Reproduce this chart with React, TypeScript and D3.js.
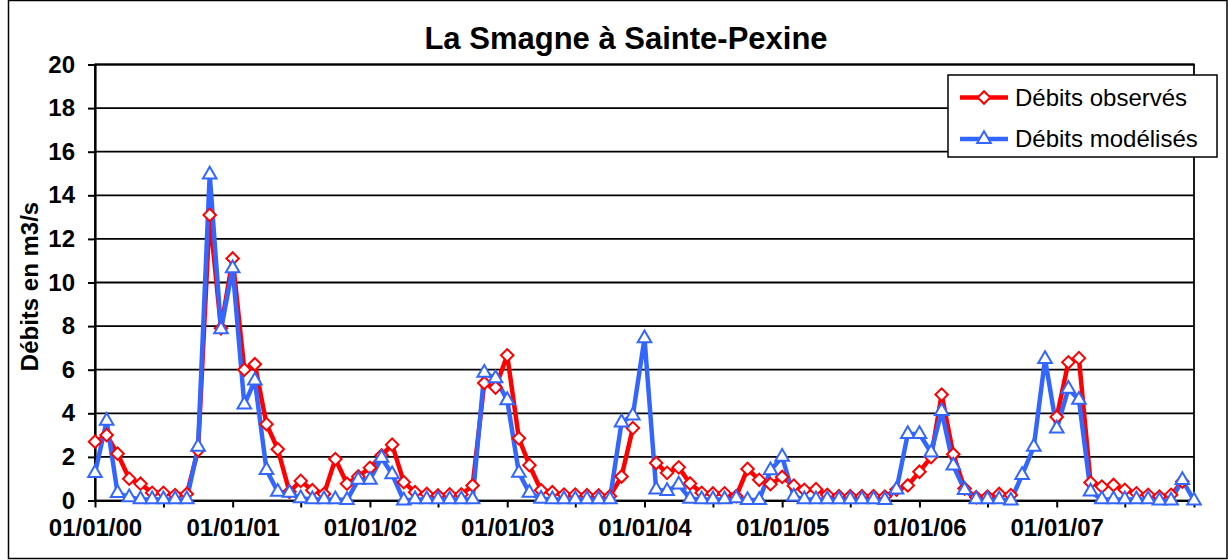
import React from "react";
import * as d3 from "d3";

// monthly flows, Jan 2000 -> Jan 2008 (97 months), m3/s
const observed: (number | null)[] = [
  2.7, 3.0, 2.15, 1.0, 0.77, 0.35, 0.35, 0.25, 0.3, 2.3, 13.1, 7.9,
  11.1, 6.0, 6.25, 3.5, 2.35, 0.4, 0.9, 0.47, 0.3, 1.9, 0.77, 1.1,
  1.5, 2.07, 2.56, 0.84, 0.38, 0.3, 0.23, 0.28, 0.28, 0.69, 5.39, 5.18,
  6.66, 2.85, 1.62, 0.47, 0.38, 0.27, 0.27, 0.24, 0.23, 0.2, 1.1, 3.32,
  null, 1.72, 1.27, 1.52, 0.78, 0.35, 0.32, 0.33, 0.2, 1.45, 0.95, 0.75,
  1.08, 0.68, 0.49, 0.52, 0.26, 0.2, 0.2, 0.2, 0.2, 0.18, 0.5, 0.69,
  1.32, 1.99, 4.86, 2.12, 0.55, 0.15, 0.18, 0.3, 0.25, null, null, null,
  3.83, 6.34, 6.53, 0.82, 0.64, 0.71, 0.49, 0.33, 0.26, 0.18, 0.26, 0.87,
  null,
];

const modeled: (number | null)[] = [
  1.26, 3.65, 0.34, 0.15, 0.05, 0.05, 0.05, 0.05, 0.05, 2.46, 14.95, 7.85,
  10.65, 4.4, 5.5, 1.4, 0.4, 0.35, 0.1, 0.05, 0.05, 0.05, 0.02, 0.95,
  0.95, 1.96, 1.2, 0.0, 0.05, 0.05, 0.05, 0.05, 0.05, 0.05, 5.86, 5.6,
  4.6, 1.27, 0.35, 0.08, 0.05, 0.05, 0.05, 0.05, 0.05, 0.05, 3.58, 3.9,
  7.44, 0.5, 0.43, 0.73, 0.08, 0.05, 0.05, 0.05, 0.1, 0.02, 0.02, 1.38,
  2.0, 0.18, 0.05, 0.05, 0.05, 0.05, 0.05, 0.05, 0.05, 0.02, 0.5, 3.05,
  3.05, 2.2, 4.1, 1.6, 0.48, 0.05, 0.05, 0.05, 0.0, 1.17, 2.46, 6.49,
  3.3, 5.12, 4.62, 0.41, 0.05, 0.05, 0.05, 0.05, 0.05, 0.0, 0.0, 0.94,
  0.0,
];

const startDate = new Date(2000, 0, 1);
const endDate = new Date(2008, 0, 1);
const months = d3.timeMonth.range(startDate, new Date(2008, 0, 2));

const yTicks = [0, 2, 4, 6, 8, 10, 12, 14, 16, 18, 20];
const title = "La Smagne à Sainte-Pexine";
const yTitle = "Débits en m3/s";
const seriesNames = ["Débits observés", "Débits modélisés"];

const RED = "#ff0000";
const BLUE = "#3366ff";
const FONT = "'Liberation Sans', Arial, sans-serif";

type Pt = { date: Date; v: number | null };

const App = () => {
  const ref = React.useRef<SVGSVGElement>(null);

  React.useEffect(() => {
    const width = 1228;
    const height = 560;
    const margin = { left: 95, right: 34, top: 64.5, bottom: 59.5 };

    const svg = d3.select(ref.current);
    svg.selectAll("*").remove();

    // chart area border
    svg.append("rect")
      .attr("x", 8.5).attr("y", 0.5)
      .attr("width", width - 9.5).attr("height", 558)
      .attr("fill", "white").attr("stroke", "#000").attr("stroke-width", 1.5);

    const x = d3.scaleTime()
      .domain([startDate, endDate])
      .range([margin.left, width - margin.right]);
    const y = d3.scaleLinear()
      .domain([0, 20])
      .range([height - margin.bottom, margin.top]);

    // gridlines
    svg.append("g")
      .selectAll("line")
      .data(yTicks.slice(1))
      .join("line")
      .attr("x1", x.range()[0]).attr("x2", x.range()[1])
      .attr("y1", d => y(d)).attr("y2", d => y(d))
      .attr("stroke", "#000").attr("stroke-width", 1.8);

    // plot border
    svg.append("rect")
      .attr("x", x.range()[0]).attr("y", y(20))
      .attr("width", x.range()[1] - x.range()[0])
      .attr("height", y(0) - y(20))
      .attr("fill", "none").attr("stroke", "#000").attr("stroke-width", 1.8);

    // y axis
    const yAxis = svg.append("g")
      .attr("transform", `translate(${margin.left},0)`)
      .call(d3.axisLeft(y).tickValues(yTicks).tickSize(7).tickPadding(13).tickSizeOuter(0));
    yAxis.select(".domain").attr("stroke-width", 2.2);
    yAxis.selectAll(".tick line").attr("stroke-width", 2);
    yAxis.selectAll(".tick text")
      .attr("font-family", FONT).attr("font-size", 24).attr("font-weight", "bold").attr("fill", "#000");

    // x axis
    const ticks6 = d3.timeMonth.every(6)!.range(startDate, new Date(2008, 0, 2));
    const fmt = d3.timeFormat("%d/%m/%y");
    const xAxis = svg.append("g")
      .attr("transform", `translate(0,${y(0)})`)
      .call(d3.axisBottom(x).tickValues(ticks6).tickSize(7).tickPadding(11).tickSizeOuter(0)
        .tickFormat((d: any) => (d.getMonth() === 0 && d < endDate ? fmt(d) : "")));
    xAxis.select(".domain").attr("stroke-width", 2.2);
    xAxis.selectAll(".tick line").attr("stroke-width", 2);
    xAxis.selectAll(".tick text")
      .attr("font-family", FONT).attr("font-size", 24).attr("font-weight", "bold").attr("fill", "#000");

    // lines (empty months left as gaps)
    const pts = (vals: (number | null)[]): Pt[] => vals.map((v, i) => ({ date: months[i], v }));
    const line = d3.line<Pt>()
      .defined(d => d.v !== null)
      .x(d => x(d.date))
      .y(d => y(d.v as number));

    const obs = pts(observed);
    const mod = pts(modeled);

    svg.append("path").datum(obs).attr("d", line)
      .attr("fill", "none").attr("stroke", RED).attr("stroke-width", 4.5).attr("stroke-linejoin", "round");
    svg.append("path").datum(mod).attr("d", line)
      .attr("fill", "none").attr("stroke", BLUE).attr("stroke-width", 4.5).attr("stroke-linejoin", "round");

    const diamond = d3.symbol(d3.symbolSquare, 78)();
    const triangle = d3.symbol(d3.symbolTriangle, 80)();

    svg.append("g").selectAll("path")
      .data(obs.filter(d => d.v !== null)).join("path")
      .attr("d", diamond)
      .attr("transform", d => `translate(${x(d.date)},${y(d.v as number)}) rotate(45)`)
      .attr("fill", "white").attr("stroke", RED).attr("stroke-width", 2);

    svg.append("g").selectAll("path")
      .data(mod.filter(d => d.v !== null)).join("path")
      .attr("d", triangle)
      .attr("transform", d => `translate(${x(d.date)},${y(d.v as number)})`)
      .attr("fill", "white").attr("stroke", BLUE).attr("stroke-width", 2);

    // title
    svg.append("text")
      .attr("x", 626).attr("y", 49)
      .attr("text-anchor", "middle")
      .attr("font-family", FONT).attr("font-size", 31).attr("font-weight", "bold")
      .text(title);

    // y title
    svg.append("text")
      .attr("transform", `translate(38,${(y(0) + y(20)) / 2 + 4}) rotate(-90)`)
      .attr("text-anchor", "middle")
      .attr("font-family", FONT).attr("font-size", 24).attr("font-weight", "bold")
      .text(yTitle);

    // legend
    const lg = svg.append("g").attr("transform", "translate(948,75)");
    lg.append("rect")
      .attr("width", 269).attr("height", 82)
      .attr("fill", "white").attr("stroke", "#000").attr("stroke-width", 1.5);
    const items = lg.selectAll("g.item")
      .data(seriesNames)
      .join("g")
      .attr("class", "item")
      .attr("transform", (d, i) => `translate(0,${22.5 + i * 41.5})`);
    items.append("line")
      .attr("x1", 12).attr("x2", 60)
      .attr("stroke", (d, i) => (i === 0 ? RED : BLUE)).attr("stroke-width", 4.5);
    items.append("path")
      .attr("d", (d, i) => (i === 0 ? diamond : triangle))
      .attr("transform", (d, i) => `translate(36,0)${i === 0 ? " rotate(45)" : ""}`)
      .attr("fill", "white").attr("stroke", (d, i) => (i === 0 ? RED : BLUE)).attr("stroke-width", 2);
    items.append("text")
      .attr("x", 67).attr("dy", "0.35em")
      .attr("font-family", FONT).attr("font-size", 24)
      .text(d => d);
  }, []);

  return (
    <svg
      ref={ref}
      width={1228}
      height={560}
      style={{ position: "absolute", left: 0, top: 0 }}
    />
  );
};

export default App;
